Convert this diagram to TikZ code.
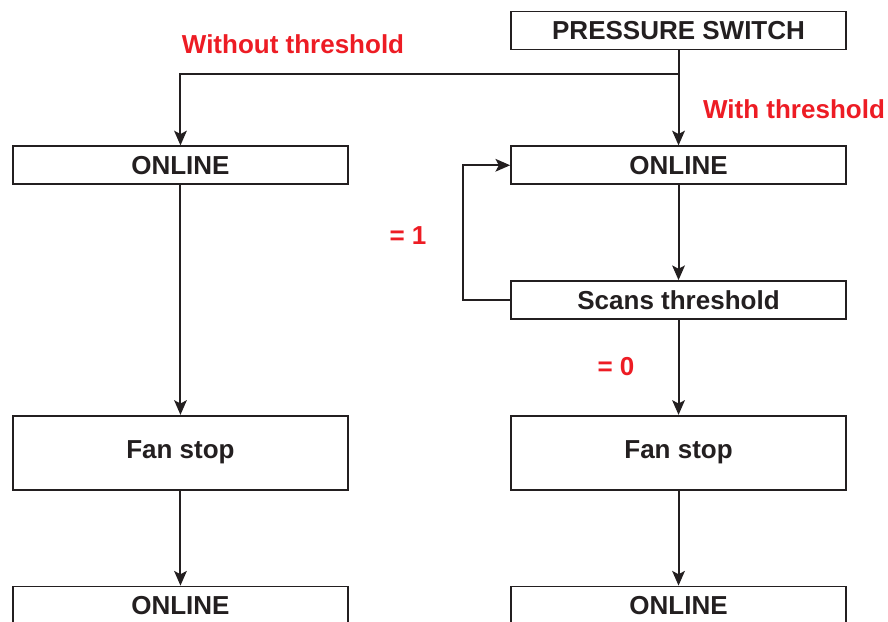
\documentclass[tikz,border=0pt]{standalone}
\usepackage{fontspec}
\setmainfont{Liberation Sans}
\usepackage{tikz}
\usetikzlibrary{calc, arrows.meta, positioning}
\definecolor{lineblack}{HTML}{231F20}
\definecolor{tred}{HTML}{ED1C24}

\begin{document}
\begin{tikzpicture}[
        node distance = 71.25pt and 121pt,
        box/.style = {draw=lineblack, rectangle, line width=1.3pt, minimum width=251.25pt, minimum height=28.5pt, inner sep=0pt, align=center, font=\fontsize{19.5}{22}\selectfont\bfseries, text=lineblack},
        bigbox/.style = {box, minimum height=55.5pt},
        redlabel/.style = {font=\fontsize{19.5}{22}\selectfont\bfseries, text=tred, inner sep=0pt},
        arrow/.style = {draw=lineblack, -{Stealth[length=11pt, width=9.5pt, inset=2.5pt]}, line width=1.5pt}
    ]
        \useasboundingbox (0,0) rectangle (666pt,-465.75pt);

        % === Right Flow: With threshold ===
        \node (pswitch) [box] at (508.9pt,-22.9pt) {PRESSURE SWITCH};

        \node (onlineR) [box, below=of pswitch] {ONLINE};

        \node (scans) [box, below=of onlineR] {Scans threshold};

        \node (fanR) [bigbox, below=of scans] {Fan stop};

        \node (endR) [box, below=of fanR] {ONLINE};

        % === Left Flow: Without threshold ===
        \node (onlineL) [box, left=of onlineR] {ONLINE};

        \node (fanL) [bigbox, left=of fanR] {Fan stop};

        \node (endL) [box, left=of endR] {ONLINE};

        \coordinate (split) at ($(pswitch.south)+(0,-18pt)$);

        % === Labels ===
        \node (lblWithout) [redlabel] at (219.75pt,-33pt) {Without threshold};
        \node (lblWith) [redlabel] at (595.5pt,-81.75pt) {With threshold};
        \node (lblOne) [redlabel] at (306pt,-177pt) {= 1};
        \node (lblZero) [redlabel] at (462pt,-275.25pt) {= 0};

        % === Arrows ===
        % With threshold
        \draw [arrow] (pswitch) -- (onlineR);
        \draw [arrow] (onlineR) -- (scans);
        \draw [arrow] (scans.west) -- ++(-35.25pt,0) |- (onlineR.west);
        \draw [arrow] (scans) -- (fanR);
        \draw [arrow] (fanR) -- (endR);

        % Without threshold
        \draw [arrow] (split) -| (onlineL);
        \draw [arrow] (onlineL) -- (fanL);
        \draw [arrow] (fanL) -- (endL);

    \end{tikzpicture}
\end{document}
